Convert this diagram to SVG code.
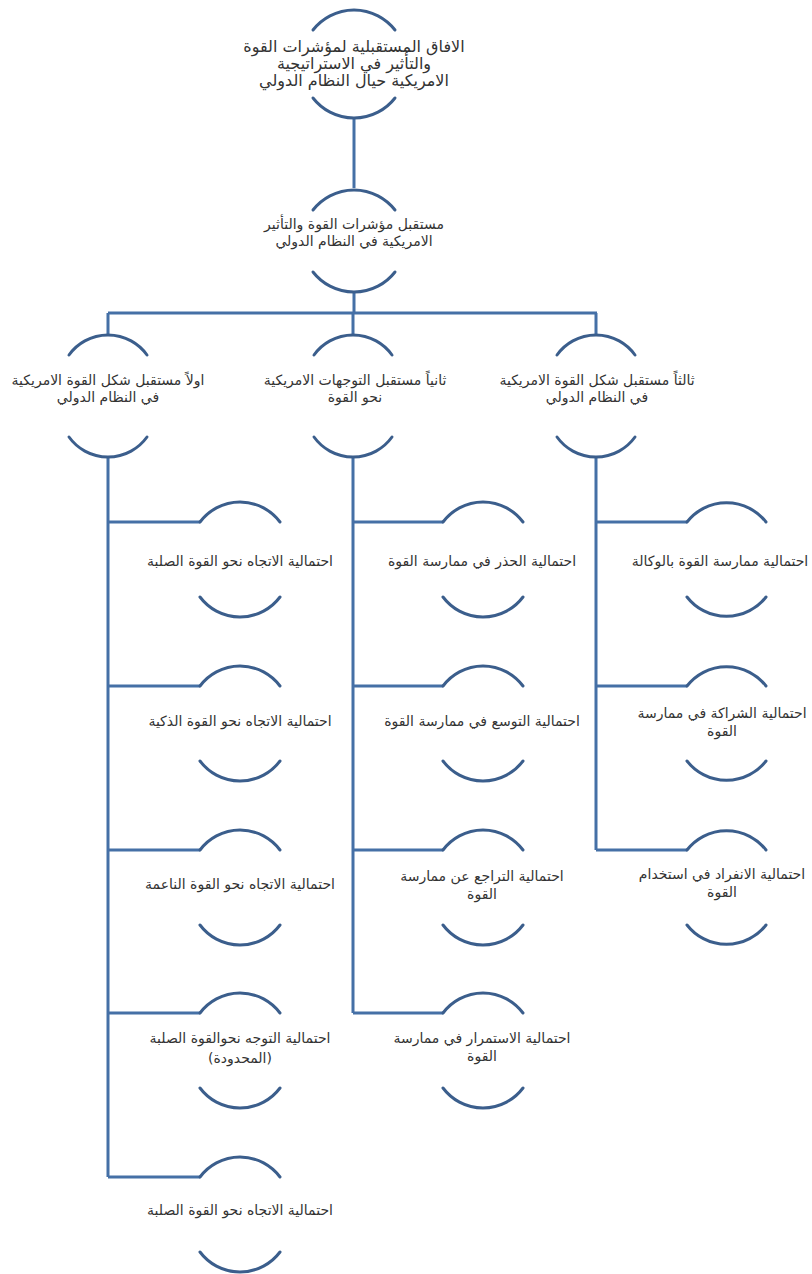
<svg xmlns="http://www.w3.org/2000/svg" width="812" height="1274" viewBox="0 0 812 1274">
<style>
.arc{fill:none;stroke:#3B5E8C;stroke-width:3;stroke-linecap:round}
.ln{fill:none;stroke:#4570A6;stroke-width:3}
text{font-family:"DejaVu Sans","Noto Sans",sans-serif;font-size:14px;fill:#333;text-anchor:middle;direction:rtl}
.big{font-size:16px}
</style>
<rect width="812" height="1274" fill="#fff"/>
<g id="connectors">
<path class="ln" d="M354,118 V188"/>
<path class="ln" d="M354,292 V313 M108,313 H597 M108,313 V334 M353,313 V334 M596,313 V334"/>
<path class="ln" d="M108,457 V1177 M108,522 H200 M108,686 H200 M108,850 H200 M108,1013 H200 M108,1177 H200"/>
<path class="ln" d="M353,457 V1013 M353,522 H443 M353,686 H443 M353,850 H443 M353,1013 H443"/>
<path class="ln" d="M596,457 V850 M596,522 H687 M596,686 H687 M596,850 H687"/>
</g>
<g id="n0">
<path class="arc" d="M313,30 A52,52 0 0 1 395,30"/>
<text class="big" x="354" y="52">الافاق المستقبلية لمؤشرات القوة</text>
<text class="big" x="354" y="69">والتأثير في الاستراتيجية</text>
<text class="big" x="354" y="86">الامريكية حيال النظام الدولي</text>
<path class="arc" d="M313,98 A52,52 0 0 0 395,98"/>
</g>
<g id="n1">
<path class="arc" d="M313,210 A52,52 0 0 1 395,210"/>
<text x="354" y="229">مستقبل مؤشرات القوة والتأثير</text>
<text x="354" y="246">الامريكية في النظام الدولي</text>
<path class="arc" d="M313,272 A52,52 0 0 0 395,272"/>
</g>
<g id="n2">
<path class="arc" d="M69,355 A48,48 0 0 1 147,355"/>
<text x="108" y="385">اولاً مستقبل شكل القوة الامريكية</text>
<text x="108" y="402">في النظام الدولي</text>
<path class="arc" d="M69,437 A48,48 0 0 0 147,437"/>
</g>
<g id="n3">
<path class="arc" d="M314,355 A48,48 0 0 1 392,355"/>
<text x="355" y="385">ثانياً مستقبل التوجهات الامريكية</text>
<text x="355" y="402">نحو القوة</text>
<path class="arc" d="M314,437 A48,48 0 0 0 392,437"/>
</g>
<g id="n4">
<path class="arc" d="M557,355 A48,48 0 0 1 635,355"/>
<text x="597" y="385">ثالثاً مستقبل شكل القوة الامريكية</text>
<text x="597" y="402">في النظام الدولي</text>
<path class="arc" d="M557,437 A48,48 0 0 0 635,437"/>
</g>
<g id="l1">
<path class="arc" d="M200,522 A50,50 0 0 1 280,522"/>
<text x="240" y="566">احتمالية الاتجاه نحو القوة الصلبة</text>
<path class="arc" d="M200,597 A50,50 0 0 0 280,597"/>
</g>
<g id="l2">
<path class="arc" d="M200,686 A50,50 0 0 1 280,686"/>
<text x="240" y="726">احتمالية الاتجاه نحو القوة الذكية</text>
<path class="arc" d="M200,761 A50,50 0 0 0 280,761"/>
</g>
<g id="l3">
<path class="arc" d="M200,850 A50,50 0 0 1 280,850"/>
<text x="240" y="889">احتمالية الاتجاه نحو القوة الناعمة</text>
<path class="arc" d="M200,925 A50,50 0 0 0 280,925"/>
</g>
<g id="l4">
<path class="arc" d="M200,1013 A50,50 0 0 1 280,1013"/>
<text x="240" y="1043">احتمالية التوجه نحوالقوة الصلبة</text>
<text x="240" y="1063">(المحدودة)</text>
<path class="arc" d="M200,1088 A50,50 0 0 0 280,1088"/>
</g>
<g id="l5">
<path class="arc" d="M200,1177 A50,50 0 0 1 280,1177"/>
<text x="240" y="1215">احتمالية الاتجاه نحو القوة الصلبة</text>
<path class="arc" d="M200,1252 A50,50 0 0 0 280,1252"/>
</g>
<g id="m1">
<path class="arc" d="M443,522 A50,50 0 0 1 523,522"/>
<text x="482" y="566">احتمالية الحذر في ممارسة القوة</text>
<path class="arc" d="M443,597 A50,50 0 0 0 523,597"/>
</g>
<g id="m2">
<path class="arc" d="M443,686 A50,50 0 0 1 523,686"/>
<text x="482" y="726">احتمالية التوسع في ممارسة القوة</text>
<path class="arc" d="M443,761 A50,50 0 0 0 523,761"/>
</g>
<g id="m3">
<path class="arc" d="M443,850 A50,50 0 0 1 523,850"/>
<text x="482" y="881">احتمالية التراجع عن ممارسة</text>
<text x="482" y="899">القوة</text>
<path class="arc" d="M443,925 A50,50 0 0 0 523,925"/>
</g>
<g id="m4">
<path class="arc" d="M443,1013 A50,50 0 0 1 523,1013"/>
<text x="482" y="1043">احتمالية الاستمرار في ممارسة</text>
<text x="482" y="1061">القوة</text>
<path class="arc" d="M443,1088 A50,50 0 0 0 523,1088"/>
</g>
<g id="r1">
<path class="arc" d="M687,522 A50,50 0 0 1 766,522"/>
<text x="720" y="566">احتمالية ممارسة القوة بالوكالة</text>
<path class="arc" d="M687,597 A50,50 0 0 0 766,597"/>
</g>
<g id="r2">
<path class="arc" d="M687,686 A50,50 0 0 1 766,686"/>
<text x="722" y="718">احتمالية الشراكة في ممارسة</text>
<text x="722" y="736">القوة</text>
<path class="arc" d="M687,761 A50,50 0 0 0 766,761"/>
</g>
<g id="r3">
<path class="arc" d="M687,850 A50,50 0 0 1 766,850"/>
<text x="722" y="879">احتمالية الانفراد في استخدام</text>
<text x="722" y="897">القوة</text>
<path class="arc" d="M687,925 A50,50 0 0 0 766,925"/>
</g>
</svg>
